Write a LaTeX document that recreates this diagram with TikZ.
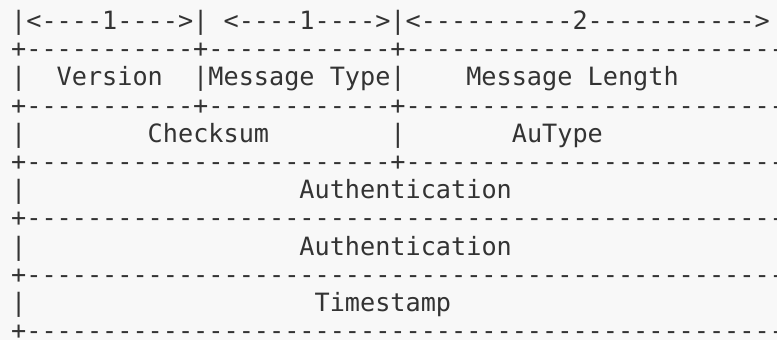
\documentclass[tikz,border=0pt]{standalone}
\usepackage{fontspec}
\setmonofont{DejaVu Sans Mono}
\usetikzlibrary{positioning}

\definecolor{pagebg}{HTML}{F8F8F8}
\definecolor{ink}{HTML}{333333}
% runs of dashes and blanks in the fixed-width font
\newcommand{\dashrun}[1]{\foreach \k in {1,...,#1}{-}}
\newcommand{\gap}[1]{\foreach \k in {1,...,#1}{~}}

\begin{document}
\begin{tikzpicture}[x=1pt,y=-1pt]
	\tikzstyle{Row}		= [anchor=base west, inner sep=0pt, text=ink, font=\ttfamily\fontsize{25.2}{30}\selectfont]

	\fill[pagebg] (0,0) rectangle (777,340);
	\useasboundingbox (0,0) rectangle (777,340);
	\clip (0,0) rectangle (777,340);

	\node (ruler) at (11, 29.5) [Row] {|<\dashrun{4}1\dashrun{4}>|~<\dashrun{4}1\dashrun{4}>|<\dashrun{10}2\dashrun{11}>};
	\node (sep1) at (11, 57.7) [Row] {+\dashrun{11}+\dashrun{12}+\dashrun{30}};
	\node (head) at (11, 85.9) [Row] {|\gap{2}Version\gap{2}|Message~Type|\gap{4}Message~Length};
	\node (sep2) at (11, 114.1) [Row] {+\dashrun{11}+\dashrun{12}+\dashrun{30}};
	\node (check) at (11, 142.3) [Row] {|\gap{8}Checksum\gap{8}|\gap{7}AuType};
	\node (sep3) at (11, 170.5) [Row] {+\dashrun{24}+\dashrun{30}};
	\node (auth1) at (11, 198.7) [Row] {|\gap{18}Authentication};
	\node (sep4) at (11, 226.9) [Row] {+\dashrun{55}};
	\node (auth2) at (11, 255.1) [Row] {|\gap{18}Authentication};
	\node (sep5) at (11, 283.3) [Row] {+\dashrun{55}};
	\node (stamp) at (11, 311.5) [Row] {|\gap{19}Timestamp};
	\node (sep6) at (11, 339.7) [Row] {+\dashrun{55}};
\end{tikzpicture}
\end{document}
